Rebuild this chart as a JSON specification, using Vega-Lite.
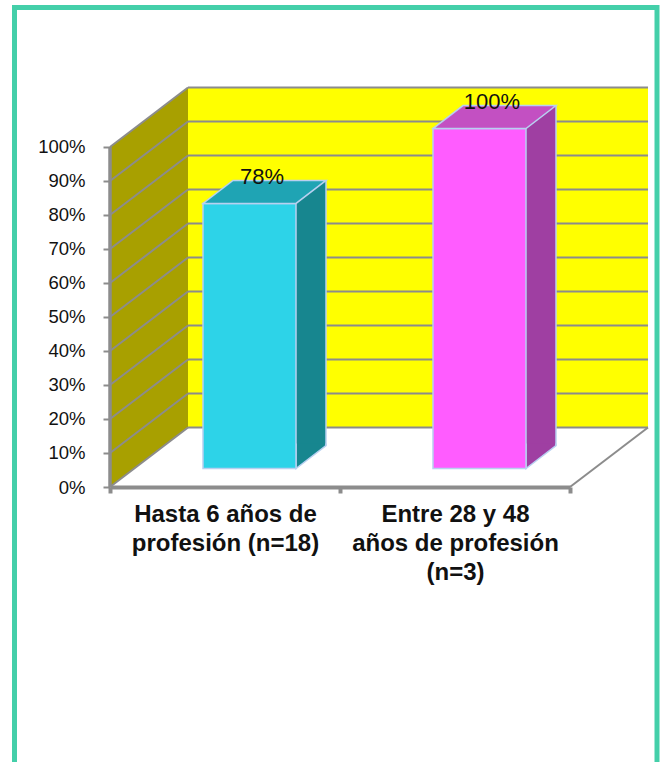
{
  "$schema": "https://vega.github.io/schema/vega-lite/v6.json",
  "width": 540,
  "height": 400,
  "autosize": {"type": "none"},
  "padding": {"left": 110, "top": 87, "right": 12, "bottom": 275},
  "background": "white",
  "config": {"view": {"stroke": null}, "font": "Liberation Sans"},
  "data": {"values": [
    {"cat": "Hasta 6 años de profesión (n=18)", "value": 0.78},
    {"cat": "Entre 28 y 48 años de profesión (n=3)", "value": 1.0}
  ]},
  "resolve": {"scale": {"x": "independent", "y": "independent", "fill": "independent"}},
  "layer": [
    {
      "data": {"values": [{"k": 1}]},
      "mark": {"type": "rect", "fillOpacity": 0, "stroke": "#44cfa9", "strokeWidth": 5},
      "encoding": {
        "x": {"datum": -95.5, "type": "quantitative", "scale": {"domain": [0, 540], "nice": false, "zero": false}, "axis": null},
        "x2": {"datum": 547},
        "y": {"datum": 1.4103, "type": "quantitative", "scale": {"domain": [0, 1.17647], "nice": false, "zero": false}, "axis": null},
        "y2": {"datum": -0.85}
      }
    },
    {
      "data": {"values": [{"k": 1}]},
      "mark": {"type": "rect", "fill": "#ffff00", "strokeWidth": 0},
      "encoding": {
        "x": {"datum": 78, "type": "quantitative", "scale": {"domain": [0, 540], "nice": false, "zero": false}, "axis": null},
        "x2": {"datum": 538},
        "y": {"datum": 0.175, "type": "quantitative", "scale": {"domain": [0, 1.17647], "nice": false, "zero": false}, "axis": null},
        "y2": {"datum": 1.175}
      }
    },
    {
      "data": {"values": [{"k": 1}]},
      "mark": {"type": "point", "shape": "M-0.195,0.99875L-0.195,-0.70125L0.195,-0.99875L0.195,0.70125Z", "size": 160000, "filled": true, "fill": "#a8a000", "opacity": 1, "strokeWidth": 0},
      "encoding": {
        "x": {"datum": 39, "type": "quantitative", "scale": {"domain": [0, 540], "nice": false, "zero": false}, "axis": null},
        "y": {"datum": 0.5875, "type": "quantitative", "scale": {"domain": [0, 1.17647], "nice": false, "zero": false}, "axis": null}
      }
    },
    {
      "data": {"values": [{"v": 0}, {"v": 0.1}, {"v": 0.2}, {"v": 0.3}, {"v": 0.4}, {"v": 0.5}, {"v": 0.6}, {"v": 0.7}, {"v": 0.8}, {"v": 0.9}, {"v": 1}]},
      "mark": {"type": "rule", "color": "#8c8c8c", "strokeWidth": 2, "yOffset": -59.5},
      "encoding": {
        "x": {"datum": 78, "type": "quantitative", "scale": {"domain": [0, 540], "nice": false, "zero": false}, "axis": null},
        "x2": {"datum": 538},
        "y": {"field": "v", "type": "quantitative", "scale": {"domain": [0, 1.17647], "nice": false, "zero": false}, "axis": null}
      }
    },
    {
      "data": {"values": [{"v": 0}, {"v": 0.1}, {"v": 0.2}, {"v": 0.3}, {"v": 0.4}, {"v": 0.5}, {"v": 0.6}, {"v": 0.7}, {"v": 0.8}, {"v": 0.9}, {"v": 1}]},
      "mark": {"type": "rule", "color": "#8c8c8c", "strokeWidth": 2, "y2Offset": -59.5},
      "encoding": {
        "x": {"datum": 0, "type": "quantitative", "scale": {"domain": [0, 540], "nice": false, "zero": false}, "axis": null},
        "x2": {"datum": 78},
        "y": {"field": "v", "type": "quantitative", "scale": {"domain": [0, 1.17647], "nice": false, "zero": false}, "axis": null},
        "y2": {"field": "v"}
      }
    },
    {
      "data": {"values": [{"k": 1}]},
      "mark": {"type": "rule", "color": "#8c8c8c", "strokeWidth": 2},
      "encoding": {
        "x": {"datum": 460, "type": "quantitative", "scale": {"domain": [0, 540], "nice": false, "zero": false}, "axis": null},
        "x2": {"datum": 538},
        "y": {"datum": 0, "type": "quantitative", "scale": {"domain": [0, 1.17647], "nice": false, "zero": false}, "axis": null},
        "y2": {"datum": 0.175}
      }
    },
    {
      "data": {"values": [{"k": 1}]},
      "mark": {"type": "rule", "color": "#8c8c8c", "strokeWidth": 3.5},
      "encoding": {
        "x": {"datum": 0, "type": "quantitative", "scale": {"domain": [0, 540], "nice": false, "zero": false}, "axis": null},
        "y": {"datum": 0, "type": "quantitative", "scale": {"domain": [0, 1.17647], "nice": false, "zero": false}, "axis": null},
        "y2": {"datum": 1}
      }
    },
    {
      "mark": {"type": "bar", "width": 93, "xOffset": 54.5, "yOffset": -41.4, "y2Offset": -41.4, "strokeWidth": 0},
      "encoding": {
        "x": {"field": "cat", "type": "nominal", "sort": null, "scale": {"type": "band", "domain": ["Hasta 6 años de profesión (n=18)", "Entre 28 y 48 años de profesión (n=3)"], "range": [0, 460], "paddingInner": 0, "paddingOuter": 0}, "axis": null},
        "y": {"field": "value", "type": "quantitative", "scale": {"domain": [0, 1.17647], "nice": false, "zero": false}, "axis": null},
        "y2": {"datum": 0},
        "fill": {"field": "cat", "type": "nominal", "scale": {"domain": ["Hasta 6 años de profesión (n=18)", "Entre 28 y 48 años de profesión (n=3)"], "range": ["#17868f", "#9f3fa2"]}, "legend": null}
      }
    },
    {
      "mark": {"type": "point", "shape": "M0.75,-0.625L0.75,-0.525L-0.75,0.625L-0.75,-0.625", "size": 1600, "filled": true, "opacity": 1, "xOffset": 86, "yOffset": -30.9, "stroke": "#b8d0f0", "strokeWidth": 1.5},
      "encoding": {
        "x": {"field": "cat", "type": "nominal", "sort": null, "scale": {"type": "band", "domain": ["Hasta 6 años de profesión (n=18)", "Entre 28 y 48 años de profesión (n=3)"], "range": [0, 460], "paddingInner": 0, "paddingOuter": 0}, "axis": null},
        "y": {"datum": 0, "type": "quantitative", "scale": {"domain": [0, 1.17647], "nice": false, "zero": false}, "axis": null},
        "fill": {"field": "cat", "type": "nominal", "scale": {"domain": ["Hasta 6 años de profesión (n=18)", "Entre 28 y 48 años de profesión (n=3)"], "range": ["#17868f", "#9f3fa2"]}, "legend": null}
      }
    },
    {
      "mark": {"type": "rule", "xOffset": 101, "yOffset": -41.4, "y2Offset": -41.4, "color": "#b8d0f0", "strokeWidth": 1.5},
      "encoding": {
        "x": {"field": "cat", "type": "nominal", "sort": null, "scale": {"type": "band", "domain": ["Hasta 6 años de profesión (n=18)", "Entre 28 y 48 años de profesión (n=3)"], "range": [0, 460], "paddingInner": 0, "paddingOuter": 0}, "axis": null},
        "y": {"field": "value", "type": "quantitative", "scale": {"domain": [0, 1.17647], "nice": false, "zero": false}, "axis": null},
        "y2": {"datum": 0}
      }
    },
    {
      "mark": {"type": "bar", "width": 93, "xOffset": 24.5, "yOffset": -18.4, "y2Offset": -18.4, "stroke": "#b8d0f0", "strokeWidth": 1.5},
      "encoding": {
        "x": {"field": "cat", "type": "nominal", "sort": null, "scale": {"type": "band", "domain": ["Hasta 6 años de profesión (n=18)", "Entre 28 y 48 años de profesión (n=3)"], "range": [0, 460], "paddingInner": 0, "paddingOuter": 0},
          "axis": {"orient": "bottom", "title": null, "domainColor": "#8c8c8c", "domainWidth": 4, "tickBand": "extent", "tickColor": "#8c8c8c", "tickWidth": 4, "tickSize": 6,
            "labelAngle": 0, "labelFontSize": 24, "labelFontWeight": "bold", "labelColor": "#111111", "labelPadding": 9, "labelLineHeight": 29, "labelLimit": 0, "labelOverlap": false,
            "labelExpr": "indexof(datum.label, 'Hasta') == 0 ? ['Hasta 6 años de', 'profesión (n=18)'] : (indexof(datum.label, 'Entre') == 0 ? ['Entre 28 y 48', 'años de profesión', '(n=3)'] : '')"}},
        "y": {"field": "value", "type": "quantitative", "scale": {"domain": [0, 1.17647], "nice": false, "zero": false},
          "axis": {"orient": "left", "values": [0, 0.1, 0.2, 0.3, 0.4, 0.5, 0.6, 0.7, 0.8, 0.9, 1], "format": ".0%", "title": null, "domain": false, "grid": false,
            "tickColor": "#8c8c8c", "tickWidth": 2, "tickSize": 7, "labelPadding": 18, "labelFontSize": 18.5, "labelColor": "#111111"}},
        "y2": {"datum": 0},
        "fill": {"field": "cat", "type": "nominal", "scale": {"domain": ["Hasta 6 años de profesión (n=18)", "Entre 28 y 48 años de profesión (n=3)"], "range": ["#2dd3e8", "#ff5cff"]}, "legend": null}
      }
    },
    {
      "mark": {"type": "point", "shape": "M-1,0.187L0.5122,0.187L1,-0.187L-0.5122,-0.187Z", "size": 15129, "filled": true, "opacity": 1, "xOffset": 39.5, "yOffset": -29.9, "stroke": "#b8d0f0", "strokeWidth": 1.5},
      "encoding": {
        "x": {"field": "cat", "type": "nominal", "sort": null, "scale": {"type": "band", "domain": ["Hasta 6 años de profesión (n=18)", "Entre 28 y 48 años de profesión (n=3)"], "range": [0, 460], "paddingInner": 0, "paddingOuter": 0}, "axis": null},
        "y": {"field": "value", "type": "quantitative", "scale": {"domain": [0, 1.17647], "nice": false, "zero": false}, "axis": null},
        "fill": {"field": "cat", "type": "nominal", "scale": {"domain": ["Hasta 6 años de profesión (n=18)", "Entre 28 y 48 años de profesión (n=3)"], "range": ["#1fa4b4", "#c350c2"]}, "legend": null}
      }
    },
    {
      "mark": {"type": "text", "fontSize": 22, "color": "#111111", "baseline": "alphabetic", "align": "center", "xOffset": 37, "yOffset": -38},
      "encoding": {
        "x": {"field": "cat", "type": "nominal", "sort": null, "scale": {"type": "band", "domain": ["Hasta 6 años de profesión (n=18)", "Entre 28 y 48 años de profesión (n=3)"], "range": [0, 460], "paddingInner": 0, "paddingOuter": 0}, "axis": null},
        "y": {"field": "value", "type": "quantitative", "scale": {"domain": [0, 1.17647], "nice": false, "zero": false}, "axis": null},
        "text": {"field": "value", "type": "quantitative", "format": ".0%"}
      }
    }
  ]
}
